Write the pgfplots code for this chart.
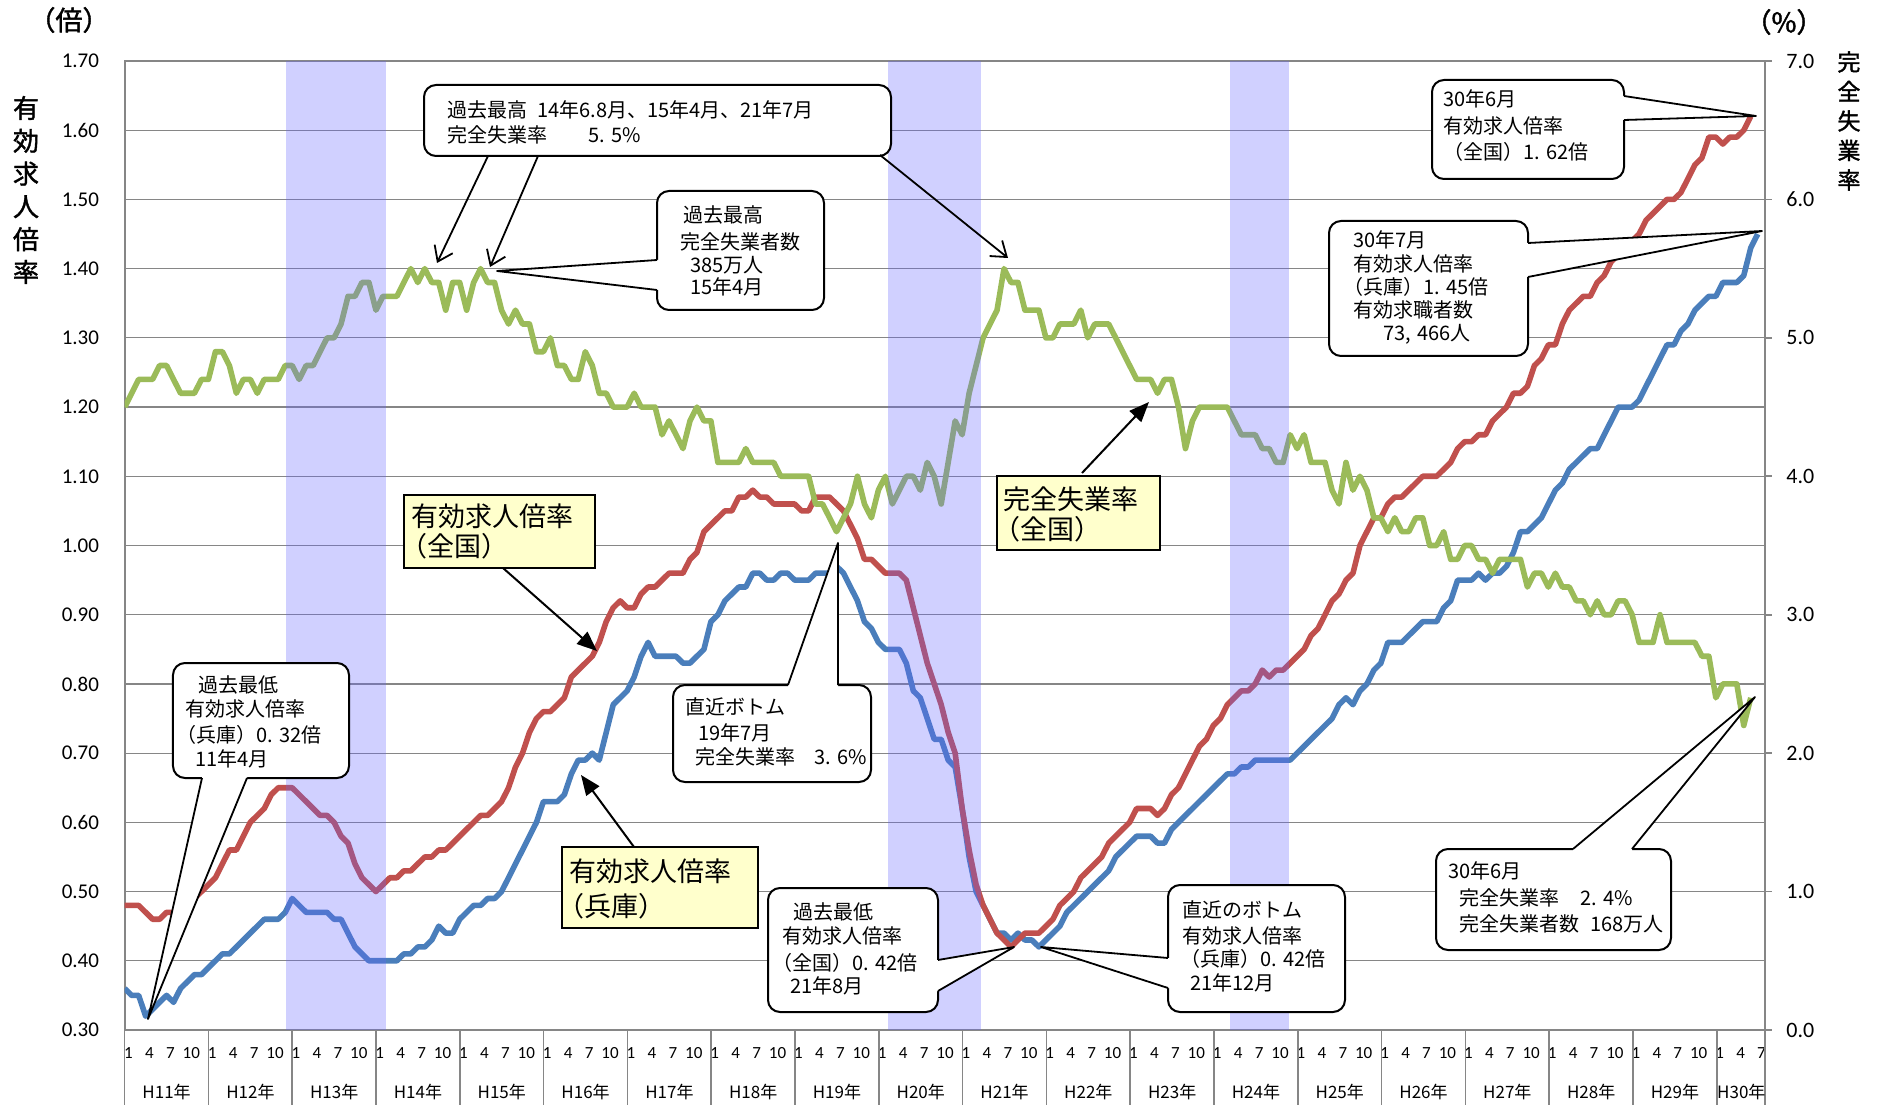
\documentclass[border=0pt]{standalone}
\usepackage{fontspec}
\setmainfont{Carlito}
\newfontfamily\jp{Noto Sans CJK JP}
\newfontfamily\jpb[FakeBold=1.5]{Noto Sans CJK JP}
\usepackage{pgfplots}
\usepackage{pgfplotstable}
\pgfplotsset{compat=1.18}
\usetikzlibrary{arrows.meta}
\definecolor{cred}{RGB}{192,80,77}
\definecolor{cblue}{RGB}{74,126,187}
\definecolor{cgreen}{RGB}{155,187,89}
\definecolor{cgrid}{RGB}{134,134,134}
\definecolor{cshade}{RGB}{100,100,255}
\definecolor{cyellow}{RGB}{255,255,204}
\newcommand{\cf}{\jp\fontsize{10}{12}\selectfont}
\newcommand{\yf}{\jp\fontsize{13.5}{16}\selectfont}
\newcommand{\gp}{\hspace{0.3em}}

\pgfplotstableread{
i r b g
0 0.48 0.36 4.5
1 0.48 0.35 4.6
2 0.48 0.35 4.7
3 0.47 0.32 4.7
4 0.46 0.33 4.7
5 0.46 0.34 4.8
6 0.47 0.35 4.8
7 0.47 0.34 4.7
8 0.48 0.36 4.6
9 0.48 0.37 4.6
10 0.49 0.38 4.6
11 0.50 0.38 4.7
12 0.51 0.39 4.7
13 0.52 0.40 4.9
14 0.54 0.41 4.9
15 0.56 0.41 4.8
16 0.56 0.42 4.6
17 0.58 0.43 4.7
18 0.60 0.44 4.7
19 0.61 0.45 4.6
20 0.62 0.46 4.7
21 0.64 0.46 4.7
22 0.65 0.46 4.7
23 0.65 0.47 4.8
24 0.65 0.49 4.8
25 0.64 0.48 4.7
26 0.63 0.47 4.8
27 0.62 0.47 4.8
28 0.61 0.47 4.9
29 0.61 0.47 5.0
30 0.60 0.46 5.0
31 0.58 0.46 5.1
32 0.57 0.44 5.3
33 0.54 0.42 5.3
34 0.52 0.41 5.4
35 0.51 0.40 5.4
36 0.50 0.40 5.2
37 0.51 0.40 5.3
38 0.52 0.40 5.3
39 0.52 0.40 5.3
40 0.53 0.41 5.4
41 0.53 0.41 5.5
42 0.54 0.42 5.4
43 0.55 0.42 5.5
44 0.55 0.43 5.4
45 0.56 0.45 5.4
46 0.56 0.44 5.2
47 0.57 0.44 5.4
48 0.58 0.46 5.4
49 0.59 0.47 5.2
50 0.60 0.48 5.4
51 0.61 0.48 5.5
52 0.61 0.49 5.4
53 0.62 0.49 5.4
54 0.63 0.50 5.2
55 0.65 0.52 5.1
56 0.68 0.54 5.2
57 0.70 0.56 5.1
58 0.73 0.58 5.1
59 0.75 0.60 4.9
60 0.76 0.63 4.9
61 0.76 0.63 5.0
62 0.77 0.63 4.8
63 0.78 0.64 4.8
64 0.81 0.67 4.7
65 0.82 0.69 4.7
66 0.83 0.69 4.9
67 0.84 0.70 4.8
68 0.86 0.69 4.6
69 0.89 0.73 4.6
70 0.91 0.77 4.5
71 0.92 0.78 4.5
72 0.91 0.79 4.5
73 0.91 0.81 4.6
74 0.93 0.84 4.5
75 0.94 0.86 4.5
76 0.94 0.84 4.5
77 0.95 0.84 4.3
78 0.96 0.84 4.4
79 0.96 0.84 4.3
80 0.96 0.83 4.2
81 0.98 0.83 4.4
82 0.99 0.84 4.5
83 1.02 0.85 4.4
84 1.03 0.89 4.4
85 1.04 0.90 4.1
86 1.05 0.92 4.1
87 1.05 0.93 4.1
88 1.07 0.94 4.1
89 1.07 0.94 4.2
90 1.08 0.96 4.1
91 1.07 0.96 4.1
92 1.07 0.95 4.1
93 1.06 0.95 4.1
94 1.06 0.96 4.0
95 1.06 0.96 4.0
96 1.06 0.95 4.0
97 1.05 0.95 4.0
98 1.05 0.95 4.0
99 1.07 0.96 3.8
100 1.07 0.96 3.8
101 1.07 0.96 3.7
102 1.06 0.97 3.6
103 1.05 0.96 3.7
104 1.03 0.94 3.8
105 1.01 0.92 4.0
106 0.98 0.89 3.8
107 0.98 0.88 3.7
108 0.97 0.86 3.9
109 0.96 0.85 4.0
110 0.96 0.85 3.8
111 0.96 0.85 3.9
112 0.95 0.83 4.0
113 0.91 0.79 4.0
114 0.87 0.78 3.9
115 0.83 0.75 4.1
116 0.80 0.72 4.0
117 0.77 0.72 3.8
118 0.73 0.69 4.1
119 0.70 0.68 4.4
120 0.62 0.62 4.3
121 0.56 0.55 4.6
122 0.51 0.50 4.8
123 0.48 0.48 5.0
124 0.46 0.46 5.1
125 0.44 0.44 5.2
126 0.43 0.44 5.5
127 0.42 0.43 5.4
128 0.43 0.44 5.4
129 0.44 0.43 5.2
130 0.44 0.43 5.2
131 0.44 0.42 5.2
132 0.45 0.43 5.0
133 0.46 0.44 5.0
134 0.48 0.45 5.1
135 0.49 0.47 5.1
136 0.50 0.48 5.1
137 0.52 0.49 5.2
138 0.53 0.50 5.0
139 0.54 0.51 5.1
140 0.55 0.52 5.1
141 0.57 0.53 5.1
142 0.58 0.55 5.0
143 0.59 0.56 4.9
144 0.60 0.57 4.8
145 0.62 0.58 4.7
146 0.62 0.58 4.7
147 0.62 0.58 4.7
148 0.61 0.57 4.6
149 0.62 0.57 4.7
150 0.64 0.59 4.7
151 0.65 0.60 4.5
152 0.67 0.61 4.2
153 0.69 0.62 4.4
154 0.71 0.63 4.5
155 0.72 0.64 4.5
156 0.74 0.65 4.5
157 0.75 0.66 4.5
158 0.77 0.67 4.5
159 0.78 0.67 4.4
160 0.79 0.68 4.3
161 0.79 0.68 4.3
162 0.80 0.69 4.3
163 0.82 0.69 4.2
164 0.81 0.69 4.2
165 0.82 0.69 4.1
166 0.82 0.69 4.1
167 0.83 0.69 4.3
168 0.84 0.70 4.2
169 0.85 0.71 4.3
170 0.87 0.72 4.1
171 0.88 0.73 4.1
172 0.90 0.74 4.1
173 0.92 0.75 3.9
174 0.93 0.77 3.8
175 0.95 0.78 4.1
176 0.96 0.77 3.9
177 1.00 0.79 4.0
178 1.02 0.80 3.9
179 1.04 0.82 3.7
180 1.04 0.83 3.7
181 1.06 0.86 3.6
182 1.07 0.86 3.7
183 1.07 0.86 3.6
184 1.08 0.87 3.6
185 1.09 0.88 3.7
186 1.10 0.89 3.7
187 1.10 0.89 3.5
188 1.10 0.89 3.5
189 1.11 0.91 3.6
190 1.12 0.92 3.4
191 1.14 0.95 3.4
192 1.15 0.95 3.5
193 1.15 0.95 3.5
194 1.16 0.96 3.4
195 1.16 0.95 3.4
196 1.18 0.96 3.3
197 1.19 0.96 3.4
198 1.20 0.97 3.4
199 1.22 0.99 3.4
200 1.22 1.02 3.4
201 1.23 1.02 3.2
202 1.26 1.03 3.3
203 1.27 1.04 3.3
204 1.29 1.06 3.2
205 1.29 1.08 3.3
206 1.32 1.09 3.2
207 1.34 1.11 3.2
208 1.35 1.12 3.1
209 1.36 1.13 3.1
210 1.36 1.14 3.0
211 1.38 1.14 3.1
212 1.39 1.16 3.0
213 1.41 1.18 3.0
214 1.42 1.20 3.1
215 1.43 1.20 3.1
216 1.44 1.20 3.0
217 1.45 1.21 2.8
218 1.47 1.23 2.8
219 1.48 1.25 2.8
220 1.49 1.27 3.0
221 1.50 1.29 2.8
222 1.50 1.29 2.8
223 1.51 1.31 2.8
224 1.53 1.32 2.8
225 1.55 1.34 2.8
226 1.56 1.35 2.7
227 1.59 1.36 2.7
228 1.59 1.36 2.4
229 1.58 1.38 2.5
230 1.59 1.38 2.5
231 1.59 1.38 2.5
232 1.60 1.39 2.2
233 1.62 1.43 2.4
234 nan 1.45 nan
}\datatab

\begin{document}
\begin{tikzpicture}
\begin{scope}[x=0.5pt,y=-0.5pt,shift={(-62.35pt,515pt)}]
\path[use as bounding box] (0,0) rectangle (1881,1105);
\end{scope}

\begin{axis}[
  at={(0,0)}, anchor=south west,
  scale only axis, width=820pt, height=484.5pt,
  xmin=0, xmax=235, ymin=0.3, ymax=1.7,
  axis line style={cgrid, line width=1pt},
  tick pos=left,
  ytick={0.3,0.4,0.5,0.6,0.7,0.8,0.9,1.0,1.1,1.2,1.3,1.4,1.5,1.6,1.7},
  ymajorgrids, grid style={cgrid, line width=0.6pt},
  /pgf/number format/assume math mode=true,
  yticklabel style={/pgf/number format/fixed, /pgf/number format/fixed zerofill, /pgf/number format/precision=2, font=\fontsize{10.5}{12}\selectfont, xshift=-9.3pt},
  ytick style={draw=none},
  xtick={0,3,...,234},
  xticklabel={\pgfmathparse{int(mod(round(\tick),12)+1)}\pgfmathresult},
  xticklabel style={font=\fontsize{8.5}{10}\selectfont, anchor=center, yshift=-11.5pt, xshift=1.9pt},
  xtick style={draw=none},
]
\addplot[cblue, line width=2.8pt, line join=round] table[x=i,y=b]{\datatab};
\addplot[cred, line width=2.8pt, line join=round] table[x=i,y=r]{\datatab};
\end{axis}

\begin{axis}[
  at={(0,0)}, anchor=south west,
  scale only axis, width=820pt, height=484.5pt,
  xmin=0, xmax=235, ymin=0, ymax=7,
  axis x line=none, axis y line*=right,
  axis line style={cgrid, line width=1pt},
  ytick={0,1,2,3,4,5,6,7},
  /pgf/number format/assume math mode=true,
  yticklabel style={/pgf/number format/fixed, /pgf/number format/fixed zerofill, /pgf/number format/precision=1, font=\fontsize{11}{13}\selectfont, xshift=3.8pt},
  tick align=outside, major tick length=3.5pt,
  ytick style={draw=cgrid, line width=0.8pt},
]
\addplot[cgreen, line width=2.8pt, line join=round] table[x=i,y=g]{\datatab};
\addplot[draw=none, fill=cshade, fill opacity=0.3] coordinates {(23.1,7) (37.4,7)} \closedcycle;
\addplot[draw=none, fill=cshade, fill opacity=0.3] coordinates {(109.4,7) (122.7,7)} \closedcycle;
\addplot[draw=none, fill=cshade, fill opacity=0.3] coordinates {(158.4,7) (166.8,7)} \closedcycle;
\end{axis}

\begin{scope}[x=0.5pt,y=-0.5pt,shift={(-62.35pt,515pt)}]
% year separators
\foreach \k in {0,...,19}{\draw[cgrid, line width=0.8pt] ({124.7+83.796*\k},1030) -- ++(0,75);}
\draw[cgrid, line width=0.8pt] (1765,1030) -- (1765,1105);
% axis titles
\node[font=\jpb\fontsize{13.5}{15}\selectfont] at (69,20) {（倍）};
\node[font=\jpb\fontsize{13.5}{15}\selectfont] at (1784,22) {（\%）};
\node[font=\jpb\fontsize{13}{16.4}\selectfont, align=center, inner sep=0] at (26,190) {有\\効\\求\\人\\倍\\率};
\node[font=\jpb\fontsize{11.5}{14.75}\selectfont, align=center, inner sep=0] at (1849,121) {完\\全\\失\\業\\率};
% year labels
\foreach \k in {0,...,18}{\pgfmathtruncatemacro{\yr}{11+\k}\node[font=\jp\fontsize{8.5}{10}\selectfont] at ({166.6+83.796*\k},1092) {H\yr 年};}
\node[font=\jp\fontsize{8.5}{10}\selectfont] at (1741.3,1092) {H30年};

% A: top callout with arrows
\draw[line width=1pt, fill=white, rounded corners=6pt] (424,85) rectangle (891,156);
\node[anchor=west, inner sep=0, font=\cf] at (447,110) {過去最高\hspace{0.5em}14年6.8月、15年4月、21年7月};
\node[anchor=west, inner sep=0, font=\cf] at (447,135) {完全失業率};
\node[anchor=west, inner sep=0, font=\cf] at (588,135) {5.\gp 5\%};
\draw[line width=0.9pt, -{Straight Barb[length=7pt,width=10pt]}] (488,156) -- (437,263);
\draw[line width=0.9pt, -{Straight Barb[length=7pt,width=10pt]}] (538,156) -- (490,267);
\draw[line width=0.9pt, -{Straight Barb[length=7pt,width=10pt]}] (880,155) -- (1008,258);

% B
\draw[line width=1pt, fill=white, rounded corners=6pt] (657,191) rectangle (824,310);
\fill[white] (661,260) -- (657,260) -- (497,271) -- (657,290) -- (661,290) -- cycle;
\draw[line width=0.9pt, line join=round] (657,260) -- (497,271) -- (657,290);
\node[anchor=west, inner sep=0, font=\cf] at (683,215) {過去最高};
\node[anchor=west, inner sep=0, font=\cf] at (680,242) {完全失業者数};
\node[anchor=west, inner sep=0, font=\cf] at (690,265) {385万人};
\node[anchor=west, inner sep=0, font=\cf] at (690,287) {15年4月};

% C
\draw[line width=1pt, fill=white, rounded corners=6pt] (173,663) rectangle (349,778);
\fill[white] (202,774) -- (202,778) -- (148,1019) -- (247,778) -- (247,774) -- cycle;
\draw[line width=0.9pt, line join=round] (202,778) -- (148,1019) -- (247,778);
\node[anchor=west, inner sep=0, font=\cf] at (198,685) {過去最低};
\node[anchor=west, inner sep=0, font=\cf] at (185,709) {有効求人倍率};
\node[anchor=west, inner sep=0, font=\cf] at (176,735) {（兵庫）0.\gp 32倍};
\node[anchor=west, inner sep=0, font=\cf] at (195,759) {11年4月};

% D yellow
\draw[line width=1.2pt, fill=cyellow] (404,495) rectangle (595,568);
\node[anchor=west, inner sep=0, font=\yf] at (411,516) {有効求人倍率};
\node[anchor=west, inner sep=0, font=\yf] at (400,546) {（全国）};
\draw[line width=1pt, -{Triangle[length=10pt,width=8pt]}] (503,568) -- (597,651);

% E yellow
\draw[line width=1.2pt, fill=cyellow] (562,847) rectangle (758,928);
\node[anchor=west, inner sep=0, font=\yf] at (569,871) {有効求人倍率};
\node[anchor=west, inner sep=0, font=\yf] at (557,906) {（兵庫）};
\draw[line width=1pt, -{Triangle[length=10pt,width=8pt]}] (634,847) -- (581,775);

% F
\draw[line width=1pt, fill=white, rounded corners=6pt] (673,685) rectangle (871,782);
\fill[white] (788,689) -- (788,685) -- (838,543) -- (838,685) -- (838,689) -- cycle;
\draw[line width=0.9pt, line join=round] (788,685) -- (838,543) -- (838,685);
\node[anchor=west, inner sep=0, font=\cf] at (685,707) {直近ボトム};
\node[anchor=west, inner sep=0, font=\cf] at (698,733) {19年7月};
\node[anchor=west, inner sep=0, font=\cf] at (695,757) {完全失業率};
\node[anchor=west, inner sep=0, font=\cf] at (814,757) {3.\gp 6\%};

% G
\draw[line width=1pt, fill=white, rounded corners=6pt] (768,888) rectangle (938,1012);
\fill[white] (934,960) -- (938,960) -- (1014,947) -- (938,991) -- (934,991) -- cycle;
\draw[line width=0.9pt, line join=round] (938,960) -- (1014,947) -- (938,991);
\node[anchor=west, inner sep=0, font=\cf] at (793,912) {過去最低};
\node[anchor=west, inner sep=0, font=\cf] at (782,936) {有効求人倍率};
\node[anchor=west, inner sep=0, font=\cf] at (772,963) {（全国）0.\gp 42倍};
\node[anchor=west, inner sep=0, font=\cf] at (790,986) {21年8月};

% H
\draw[line width=1pt, fill=white, rounded corners=6pt] (1168,885) rectangle (1345,1012);
\fill[white] (1172,958) -- (1168,958) -- (1041,947) -- (1168,988) -- (1172,988) -- cycle;
\draw[line width=0.9pt, line join=round] (1168,958) -- (1041,947) -- (1168,988);
\node[anchor=west, inner sep=0, font=\cf] at (1182,910) {直近のボトム};
\node[anchor=west, inner sep=0, font=\cf] at (1182,936) {有効求人倍率};
\node[anchor=west, inner sep=0, font=\cf] at (1180,959) {（兵庫）0.\gp 42倍};
\node[anchor=west, inner sep=0, font=\cf] at (1190,983) {21年12月};

% I yellow
\draw[line width=1.2pt, fill=cyellow] (997,476) rectangle (1160,550);
\node[anchor=west, inner sep=0, font=\yf] at (1003,499) {完全失業率};
\node[anchor=west, inner sep=0, font=\yf] at (993,529) {（全国）};
\draw[line width=1pt, -{Triangle[length=10pt,width=8pt]}] (1082,473) -- (1149,402);

% J
\draw[line width=1pt, fill=white, rounded corners=6pt] (1432,80) rectangle (1624,179);
\fill[white] (1620,96) -- (1624,96) -- (1756,116) -- (1624,120) -- (1620,120) -- cycle;
\draw[line width=0.9pt, line join=round] (1624,96) -- (1756,116) -- (1624,120);
\node[anchor=west, inner sep=0, font=\cf] at (1443,99) {30年6月};
\node[anchor=west, inner sep=0, font=\cf] at (1443,126) {有効求人倍率};
\node[anchor=west, inner sep=0, font=\cf] at (1443,152) {（全国）1.\gp 62倍};

% K
\draw[line width=1pt, fill=white, rounded corners=6pt] (1329,221) rectangle (1528,356);
\fill[white] (1524,243) -- (1528,243) -- (1762,231) -- (1528,277) -- (1524,277) -- cycle;
\draw[line width=0.9pt, line join=round] (1528,243) -- (1762,231) -- (1528,277);
\node[anchor=west, inner sep=0, font=\cf] at (1353,240) {30年7月};
\node[anchor=west, inner sep=0, font=\cf] at (1353,264) {有効求人倍率};
\node[anchor=west, inner sep=0, font=\cf] at (1343,287) {（兵庫）1.\gp 45倍};
\node[anchor=west, inner sep=0, font=\cf] at (1353,310) {有効求職者数};
\node[anchor=west, inner sep=0, font=\cf] at (1383,334) {73,\gp 466人};

% L
\draw[line width=1pt, fill=white, rounded corners=6pt] (1436,849) rectangle (1671,950);
\fill[white] (1573,853) -- (1573,849) -- (1755,697) -- (1632,849) -- (1632,853) -- cycle;
\draw[line width=0.9pt, line join=round] (1573,849) -- (1755,697) -- (1632,849);
\node[anchor=west, inner sep=0, font=\cf] at (1448,871) {30年6月};
\node[anchor=west, inner sep=0, font=\cf] at (1459,898) {完全失業率};
\node[anchor=west, inner sep=0, font=\cf] at (1580,898) {2.\gp 4\%};
\node[anchor=west, inner sep=0, font=\cf] at (1459,924) {完全失業者数};
\node[anchor=west, inner sep=0, font=\cf] at (1590,924) {168万人};

\pgfresetboundingbox
\path[use as bounding box] (0,0) rectangle (1881,1105);
\end{scope}
\end{tikzpicture}
\end{document}
